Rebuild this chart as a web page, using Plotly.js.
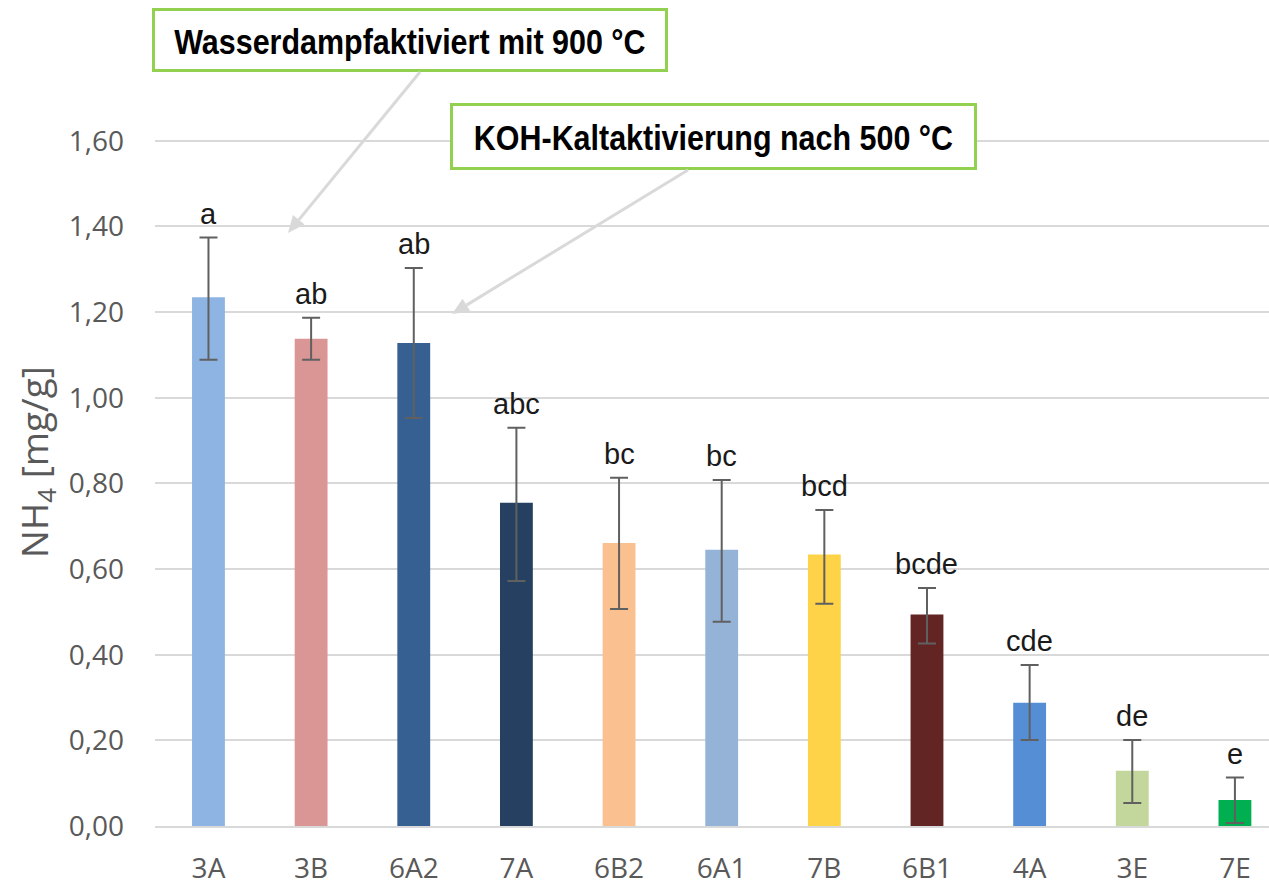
<!DOCTYPE html>
<html>
<head>
<meta charset="utf-8">
<script src="https://cdn.plot.ly/plotly-3.0.1.min.js"></script>
<style>html,body{margin:0;padding:0;background:#fff;}#chart{width:1269px;height:885px;}</style>
</head>
<body>
<div id="chart"></div>
<script>
const categories = ['3A','3B','6A2','7A','6B2','6A1','7B','6B1','4A','3E','7E'];
const values     = [1.235, 1.138, 1.128, 0.755, 0.661, 0.645, 0.634, 0.494, 0.288, 0.129, 0.061];
const errPlus    = [0.139, 0.049, 0.175, 0.175, 0.152, 0.163, 0.104, 0.062, 0.088, 0.072, 0.052];
const errMinus   = [0.146, 0.049, 0.175, 0.183, 0.154, 0.168, 0.115, 0.068, 0.087, 0.075, 0.054];
const letters    = ['a','ab','ab','abc','bc','bc','bcd','bcde','cde','de','e'];
const barColors  = ['#8EB4E3','#DA9694','#366092','#254061','#FAC090','#95B3D7','#FFD347','#632523','#558ED5','#C3D69B','#00B050'];
const yTicks     = [0, 0.2, 0.4, 0.6, 0.8, 1.0, 1.2, 1.4, 1.6];
const yTickText  = ['0,00','0,20','0,40','0,60','0,80','1,00','1,20','1,40','1,60'];
const callouts   = ['Wasserdampfaktiviert mit 900 °C', 'KOH-Kaltaktivierung nach 500 °C'];

const tickFont = {family: 'Open Sans, Noto Sans, sans-serif', size: 28, color: '#595959'};
const boxFont = {family: 'Liberation Sans, Arial, sans-serif', size: 35, color: '#000', weight: 'bold'};

// plot area in pixels: left 155, width 1114; bottom 826, height 728
const px = v => (v - 155) / 1114;
const py = v => (826 - v) / 728;

// callout boxes (pixel rectangles) and their pointer arrows (tail -> tip)
const boxes  = [{x0: 153.5, x1: 666.5, y0: 9.5, y1: 70.5}, {x0: 451.5, x1: 975.5, y0: 104.5, y1: 168.5}];
const arrows = [{tail: [420, 72], tip: [288, 233]}, {tail: [688, 170], tip: [452, 314]}];

const trace = {
  type: 'bar',
  x: categories,
  y: values,
  marker: {color: barColors, line: {width: 0}},
  error_y: {type: 'data', symmetric: false, array: errPlus, arrayminus: errMinus,
            color: '#606060', thickness: 2, width: 9},
  hoverinfo: 'none'
};

const annotations = categories.map((c, i) => ({
  x: c, y: values[i] + errPlus[i], xref: 'x', yref: 'y',
  text: letters[i], showarrow: false, yanchor: 'bottom', yshift: 6,
  font: {family: 'Liberation Sans, Arial, sans-serif', size: 29, color: '#1a1a1a'}
}));

const shapes = [];
boxes.forEach((b, i) => {
  shapes.push({type: 'rect', xref: 'paper', yref: 'paper', layer: 'above',
    x0: px(b.x0), x1: px(b.x1), y0: py(b.y1), y1: py(b.y0),
    line: {color: '#92D050', width: 3}, fillcolor: '#fff'});
  annotations.push({xref: 'paper', yref: 'paper',
    x: px((b.x0 + b.x1) / 2), y: py((b.y0 + b.y1) / 2 + 1),
    text: callouts[i], showarrow: false, xanchor: 'center', yanchor: 'middle', font: boxFont});
});
arrows.forEach(a => {
  const dx = a.tip[0] - a.tail[0], dy = a.tip[1] - a.tail[1];
  const len = Math.hypot(dx, dy), ux = dx / len, uy = dy / len;
  const L = 17, W = 7.5;
  const bx = a.tip[0] - ux * L, by = a.tip[1] - uy * L;
  const p1 = [bx - uy * W, by + ux * W], p2 = [bx + uy * W, by - ux * W];
  shapes.push({type: 'line', xref: 'paper', yref: 'paper', layer: 'above',
    x0: px(a.tail[0]), y0: py(a.tail[1]), x1: px(bx), y1: py(by),
    line: {color: '#D9D9D9', width: 3}});
  shapes.push({type: 'path', xref: 'paper', yref: 'paper', layer: 'above',
    path: `M${px(a.tip[0])},${py(a.tip[1])} L${px(p1[0])},${py(p1[1])} L${px(p2[0])},${py(p2[1])} Z`,
    fillcolor: '#D9D9D9', line: {width: 0}});
});

const layout = {
  width: 1269, height: 885,
  margin: {l: 155, r: 0, t: 98, b: 59},
  paper_bgcolor: '#fff', plot_bgcolor: '#fff',
  bargap: 0.68,
  showlegend: false,
  xaxis: {
    type: 'category', range: [-0.521, 10.332],
    showgrid: false, zeroline: false, showline: true, linecolor: '#D9D9D9', linewidth: 2,
    ticks: '', tickfont: tickFont, ticklabelstandoff: 16, fixedrange: true
  },
  yaxis: {
    range: [0, 1.7], tickvals: yTicks, ticktext: yTickText,
    showgrid: true, gridcolor: '#D9D9D9', gridwidth: 2, zeroline: false, showline: false,
    ticks: '', tickfont: tickFont, ticklabelstandoff: 30,
    title: {text: 'NH<sub>4</sub> [mg/g]', font: {family: 'Open Sans, Noto Sans, sans-serif', size: 37, color: '#595959'}, standoff: 8},
    fixedrange: true
  },
  shapes: shapes,
  annotations: annotations
};

Plotly.newPlot('chart', [trace], layout, {displayModeBar: false, staticPlot: true}).then(gd => {
  // the callout texts are drawn in a condensed style, as in the reference
  gd.querySelectorAll('text.annotation-text').forEach(el => {
    if (callouts.indexOf(el.textContent) < 0) return;
    const b = el.getBBox();
    const cx = b.x + b.width / 2;
    const prev = el.getAttribute('transform') || '';
    el.setAttribute('transform', `translate(${cx},0) scale(0.87,1) translate(${-cx},0) ${prev}`);
  });
});
</script>
</body>
</html>
